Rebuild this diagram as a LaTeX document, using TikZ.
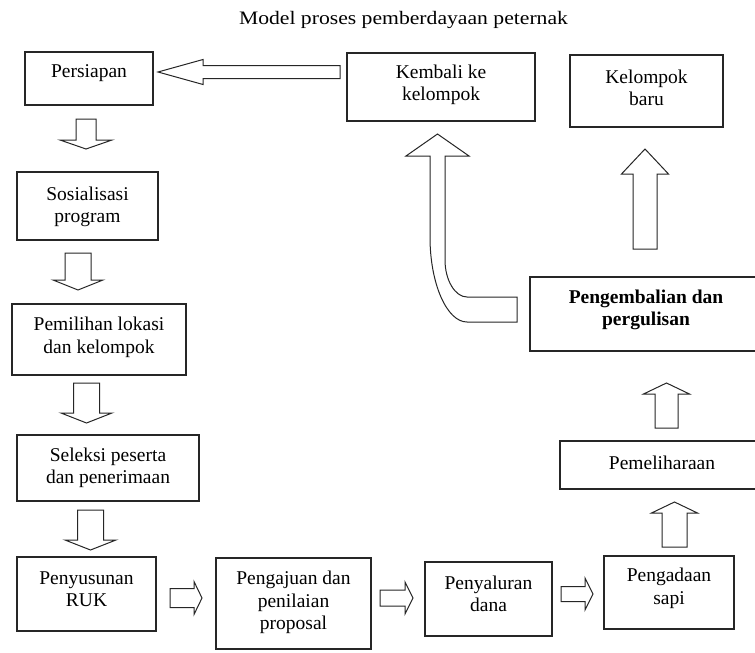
\documentclass[tikz,border=0pt]{standalone}
\usepackage{fontspec}
\setmainfont{Liberation Serif}
\newfontfamily\titlefont{Liberation Serif}[FakeStretch=1.14]
\newcommand{\ArrV}[6]{\draw[barrow] (#1-#5,#2) -- (#1+#5,#2) -- (#1+#5,#3) -- (#1+#6,#3) -- (#1,#4) -- (#1-#6,#3) -- (#1-#5,#3) -- cycle;}
\newcommand{\ArrH}[6]{\draw[barrow] (#2,#1-#5) -- (#2,#1+#5) -- (#3,#1+#5) -- (#3,#1+#6) -- (#4,#1) -- (#3,#1-#6) -- (#3,#1-#5) -- cycle;}
\begin{document}
\begin{tikzpicture}[x=1pt,y=-1pt,
  box/.style={draw=black!85, line width=1.2pt, inner sep=0pt},
  tx/.style={inner sep=0pt, align=center, font=\fontsize{19.5}{22.5}\selectfont},
  barrow/.style={draw=black!85, line width=1pt, fill=white, line join=miter}]
\useasboundingbox (0,0) rectangle (755,653);
\clip (0,0) rectangle (755,653);
\node (title) at (403.5,20) {\titlefont\fontsize{19}{22}\selectfont Model proses pemberdayaan peternak};
\node[box, minimum width=128pt, minimum height=53pt, label={[tx, yshift=5pt]center:{Persiapan}}] (persiapan) at (89,78.5) {};
\node[box, minimum width=141pt, minimum height=68pt, label={[tx, yshift=-1pt]center:{Sosialisasi\\program}}] (sosial) at (87.5,206) {};
\node[box, minimum width=174pt, minimum height=71pt, label={[tx, yshift=2pt]center:{Pemilihan lokasi\\dan kelompok}}] (pemilihan) at (99,339.5) {};
\node[box, minimum width=182pt, minimum height=66pt, label={[tx]center:{Seleksi peserta\\dan penerimaan}}] (seleksi) at (108,468) {};
\node[box, minimum width=139pt, minimum height=74pt, label={[tx, yshift=5pt]center:{Penyusunan\\RUK}}] (ruk) at (86.5,594) {};
\node[box, minimum width=155pt, minimum height=91pt, label={[tx, yshift=1pt]center:{Pengajuan dan\\penilaian\\proposal}}] (pengajuan) at (293.5,603.5) {};
\node[box, minimum width=127pt, minimum height=74pt, label={[tx, yshift=5pt]center:{Penyaluran\\dana}}] (penyaluran) at (488.5,599) {};
\node[box, minimum width=130pt, minimum height=73pt, label={[tx, yshift=4pt]center:{Pengadaan\\sapi}}] (pengadaan) at (669,592.5) {};
\node[box, minimum width=204pt, minimum height=48pt, label={[tx, yshift=2pt]center:{Pemeliharaan}}] (pemeliharaan) at (662,465) {};
\node[box, minimum width=232pt, minimum height=74pt, label={[tx, yshift=4pt, font=\fontsize{19.5}{22.5}\selectfont\bfseries]center:{Pengembalian dan\\pergulisan}}] (pengembalian) at (646,314) {};
\node[box, minimum width=153pt, minimum height=72pt, label={[tx, yshift=3pt]center:{Kelompok\\baru}}] (baru) at (646.5,91) {};
\node[box, minimum width=188pt, minimum height=68pt, label={[tx, yshift=2pt]center:{Kembali ke\\kelompok}}] (kembali) at (441,87) {};
% down arrows
\ArrV{86}{119}{140}{149}{10}{26}
\ArrV{78}{253}{280}{290}{13}{25}
\ArrV{86.5}{383}{413}{423}{13}{25.5}
\ArrV{90.5}{510}{540}{550}{13}{25.5}
% right arrows
\ArrH{598}{170}{194}{202}{9.5}{16.5}
\ArrH{598}{380}{405}{413}{8}{16}
\ArrH{594}{561}{585}{593}{7.5}{16}
% up arrows
\ArrV{674.5}{547}{513}{502}{12.5}{23}
\ArrV{666.5}{428}{394}{383}{11.5}{23}
\ArrV{645}{249}{174}{149}{12}{23.5}
% left arrow
\ArrH{72}{340}{203}{158}{6.5}{12.5}
% curved arrow
\draw[barrow] (517,297) -- (517,322) -- (467,322)
  .. controls (447,322) and (430,284) .. (430,237) -- (430,156) -- (406,156) -- (437.5,134)
  -- (469,156) -- (445,156) -- (445,260) .. controls (445,280) and (455,297) .. (467,297) -- cycle;
\end{tikzpicture}
\end{document}
